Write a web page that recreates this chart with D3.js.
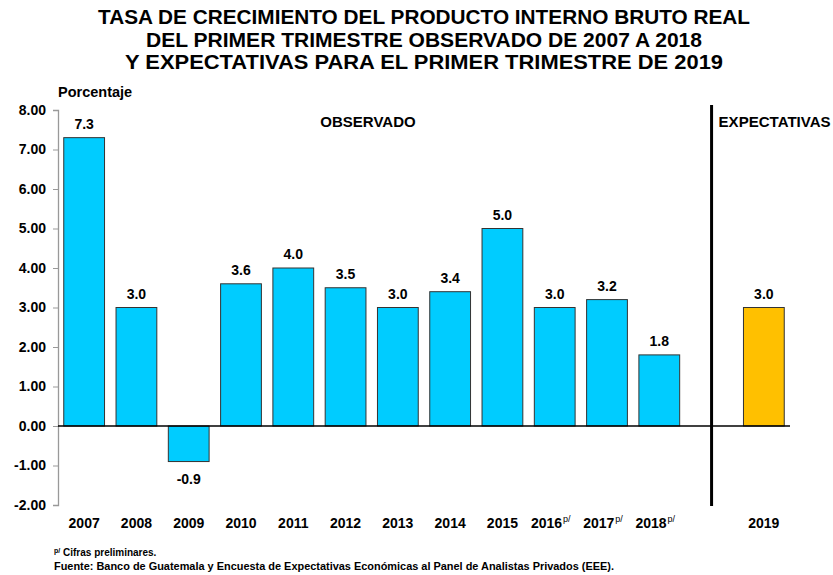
<!DOCTYPE html>
<html>
<head>
<meta charset="utf-8">
<script src="https://cdn.jsdelivr.net/npm/d3@7"></script>
<style>
  body { margin: 0; background: #fff; }
  text { font-family: "Liberation Sans", Arial, sans-serif; font-weight: bold; fill: #000; }
</style>
</head>
<body>
<svg id="chart" width="833" height="575"></svg>
<script>
// data
var years = ["2007", "2008", "2009", "2010", "2011", "2012", "2013", "2014", "2015", "2016", "2017", "2018", "", "2019"];
var values = [7.3, 3.0, -0.9, 3.6, 4.0, 3.5, 3.0, 3.4, 5.0, 3.0, 3.2, 1.8, null, 3.0];
var preliminary = ["2016", "2017", "2018"];
var expectedYears = ["2019"];
var yTicks = [-2, -1, 0, 1, 2, 3, 4, 5, 6, 7, 8];
var titleLines = [
    "TASA DE CRECIMIENTO DEL PRODUCTO INTERNO BRUTO REAL",
    "DEL PRIMER TRIMESTRE OBSERVADO DE  2007 A 2018",
    "Y EXPECTATIVAS PARA EL PRIMER  TRIMESTRE DE 2019"
];

var svg = d3.select("#chart");
var plotLeft = 58, plotRight = 790, plotTop = 110, plotBottom = 505;

// hyphen instead of unicode minus, like the original
var fmt2 = function(v) { return v.toFixed(2); };
var fmt1 = function(v) { return v.toFixed(1); };

var data = years.map(function(y, i) { return { key: y || "gap", year: y, value: values[i] }; });

var x = d3.scaleBand()
    .domain(data.map(function(d) { return d.key; }))
    .range([plotLeft, plotRight])
    .paddingInner(0.22)
    .paddingOuter(0.11);

var yScale = d3.scaleLinear().domain([-2, 8]).range([plotBottom, plotTop]);

// title
svg.append("g").selectAll("text")
    .data(titleLines).enter()
    .append("text")
    .attr("x", 424)
    .attr("y", function(d, i) { return 24 + i * 22.5; })
    .attr("text-anchor", "middle")
    .style("font-size", "21px")
    .attr("textLength", function(d, i) { return [652, 556, 598][i]; })
    .attr("lengthAdjust", "spacingAndGlyphs")
    .text(function(d) { return d; });

svg.append("text")
    .attr("x", 58).attr("y", 97)
    .style("font-size", "14.5px")
    .text("Porcentaje");

// y axis
var yAxis = d3.axisLeft(yScale)
    .tickValues(yTicks)
    .tickSize(5)
    .tickFormat(fmt2);

var gy = svg.append("g")
    .attr("transform", "translate(" + plotLeft + ",0)")
    .call(yAxis);
gy.select(".domain").attr("stroke", "#999").attr("stroke-width", 1.3);
gy.selectAll(".tick line").attr("stroke", "#999");
gy.selectAll(".tick text")
    .attr("x", -12)
    .style("font-size", "14px")
    .style("font-family", "Liberation Sans, Arial, sans-serif")
    .style("font-weight", "bold")
    .attr("fill", "#000");

// bars
var bars = data.filter(function(d) { return d.value != null; });
svg.append("g").selectAll("rect")
    .data(bars).enter()
    .append("rect")
    .attr("x", function(d) { return x(d.key); })
    .attr("width", x.bandwidth())
    .attr("y", function(d) { return yScale(Math.max(0, d.value)); })
    .attr("height", function(d) { return Math.abs(yScale(d.value) - yScale(0)); })
    .attr("fill", function(d) { return expectedYears.indexOf(d.year) >= 0 ? "#FFC000" : "#00CCFF"; })
    .attr("stroke", "#333")
    .attr("stroke-width", 1);

// zero line
svg.append("line")
    .attr("x1", plotLeft).attr("x2", plotRight)
    .attr("y1", yScale(0)).attr("y2", yScale(0))
    .attr("stroke", "#000").attr("stroke-width", 1.3);

// value labels
svg.append("g").selectAll("text")
    .data(bars).enter()
    .append("text")
    .attr("x", function(d) { return x(d.key) + x.bandwidth() / 2; })
    .attr("y", function(d) { return d.value >= 0 ? yScale(d.value) - 9 : yScale(d.value) + 22; })
    .attr("text-anchor", "middle")
    .style("font-size", "14px")
    .text(function(d) { return fmt1(d.value); });

// x labels
var xl = svg.append("g").selectAll("text")
    .data(data.filter(function(d) { return d.year; })).enter()
    .append("text")
    .attr("x", function(d) { return x(d.key) + x.bandwidth() / 2 - (preliminary.indexOf(d.year) >= 0 ? 4 : 0); })
    .attr("y", 528)
    .attr("text-anchor", "middle")
    .style("font-size", "14px")
    .text(function(d) { return d.year; });

xl.filter(function(d) { return preliminary.indexOf(d.year) >= 0; })
    .append("tspan")
    .attr("dx", 1)
    .attr("dy", -6)
    .style("font-size", "9px")
    .style("font-weight", "normal")
    .text("p/");

// separator between observed and expected
var sepX = x("gap") + x.bandwidth() / 2;
svg.append("line")
    .attr("x1", sepX).attr("x2", sepX)
    .attr("y1", 105).attr("y2", 506)
    .attr("stroke", "#000").attr("stroke-width", 3);

svg.append("text")
    .attr("x", 368).attr("y", 127)
    .attr("text-anchor", "middle")
    .style("font-size", "15px")
    .text("OBSERVADO");

svg.append("text")
    .attr("x", sepX + 7).attr("y", 127)
    .style("font-size", "15px")
    .attr("textLength", 112)
    .attr("lengthAdjust", "spacingAndGlyphs")
    .text("EXPECTATIVAS");

// footer
var foot = svg.append("g")
    .style("font-family", "'Open Sans', 'Liberation Sans', sans-serif");
var n1 = foot.append("text")
    .attr("x", 54).attr("y", 556)
    .style("font-size", "10px");
n1.append("tspan").attr("dy", -3).style("font-size", "7px").text("p/");
n1.append("tspan").attr("dy", 3).text(" Cifras preliminares.");

foot.append("text")
    .attr("x", 54).attr("y", 570)
    .style("font-size", "11px")
    .attr("textLength", 560)
    .attr("lengthAdjust", "spacingAndGlyphs")
    .text("Fuente:  Banco de Guatemala y Encuesta de Expectativas Económicas al Panel de Analistas Privados (EEE).");
</script>
</body>
</html>
